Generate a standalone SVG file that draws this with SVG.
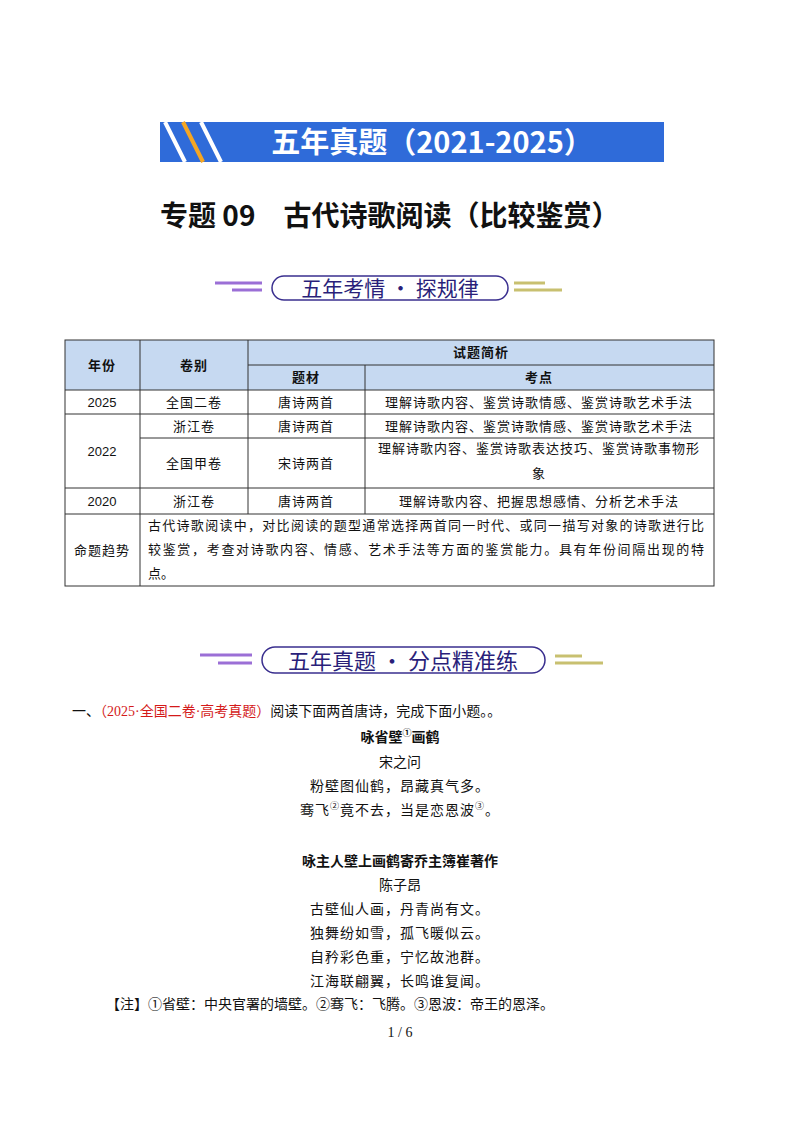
<svg xmlns="http://www.w3.org/2000/svg" width="800" height="1132" viewBox="0 0 800 1132">
<style>
text{font-family:"Liberation Serif","Noto Sans CJK SC",serif;fill:#111}
.c{text-anchor:middle}
.t{font-size:13px;letter-spacing:1px}
.tr{font-size:13px}
.p{font-size:14px}
.b{font-weight:bold}
.hd{font-family:"Noto Sans CJK SC",sans-serif;fill:#2a1f7a;font-size:21px;text-anchor:middle}
.cell{fill:none;stroke:#333;stroke-width:1}
.pill{fill:#fff;stroke:#3a2f8f;stroke-width:1.5}
</style>
<rect width="800" height="1132" fill="#fff"/>
<g id="banner">
<rect x="160" y="122" width="504" height="40" fill="#2F6BD9"/>
<line x1="165" y1="122" x2="185" y2="162" stroke="#fff" stroke-width="4"/>
<line x1="183" y1="122" x2="203" y2="162" stroke="#F5A623" stroke-width="4"/>
<line x1="201" y1="122" x2="221" y2="162" stroke="#fff" stroke-width="4"/>
<text x="432" y="153" class="c" style="font-family:'Noto Sans CJK SC',sans-serif;font-size:29px;font-weight:bold;fill:#fff">五年真题（2021-2025）</text>
</g>
<text x="160" y="226" style="font-family:'Noto Sans CJK SC',sans-serif;font-size:28px;font-weight:bold">专题 09　古代诗歌阅读（比较鉴赏）</text>
<g id="header1">
<line x1="215" y1="283" x2="262" y2="283" stroke="#9b6fd6" stroke-width="3"/>
<line x1="232" y1="290" x2="262" y2="290" stroke="#9b6fd6" stroke-width="3"/>
<line x1="514" y1="283" x2="545" y2="283" stroke="#c8c070" stroke-width="3"/>
<line x1="514" y1="290" x2="562" y2="290" stroke="#c8c070" stroke-width="3"/>
<rect x="272" y="276" width="236" height="24" rx="12" class="pill"/>
<text x="390" y="296" class="hd">五年考情 · 探规律</text>
</g>
<g id="table">
<rect x="65" y="340" width="649" height="50" fill="#C6D9F1"/>
<rect x="65" y="340" width="649" height="246" class="cell"/>
<line x1="140" y1="340" x2="140" y2="586" class="cell"/>
<line x1="248" y1="340" x2="248" y2="514" class="cell"/>
<line x1="365" y1="365" x2="365" y2="514" class="cell"/>
<line x1="248" y1="365" x2="714" y2="365" class="cell"/>
<line x1="65" y1="390" x2="714" y2="390" class="cell"/>
<line x1="65" y1="414" x2="714" y2="414" class="cell"/>
<line x1="140" y1="438" x2="714" y2="438" class="cell"/>
<line x1="65" y1="488" x2="714" y2="488" class="cell"/>
<line x1="65" y1="514" x2="714" y2="514" class="cell"/>
<text x="102" y="370" class="c b t">年份</text>
<text x="194" y="370" class="c b t">卷别</text>
<text x="481" y="357" class="c b t">试题简析</text>
<text x="306" y="382" class="c b t">题材</text>
<text x="539" y="382" class="c b t">考点</text>
<text x="102" y="407" class="c" style="font-family:'Liberation Sans',sans-serif;font-size:13px">2025</text>
<text x="194" y="407" class="c t">全国二卷</text>
<text x="306" y="407" class="c t">唐诗两首</text>
<text x="539" y="407" class="c t">理解诗歌内容、鉴赏诗歌情感、鉴赏诗歌艺术手法</text>
<text x="102" y="456" class="c" style="font-family:'Liberation Sans',sans-serif;font-size:13px">2022</text>
<text x="194" y="431" class="c t">浙江卷</text>
<text x="306" y="431" class="c t">唐诗两首</text>
<text x="539" y="431" class="c t">理解诗歌内容、鉴赏诗歌情感、鉴赏诗歌艺术手法</text>
<text x="194" y="468" class="c t">全国甲卷</text>
<text x="306" y="468" class="c t">宋诗两首</text>
<text x="539" y="453" class="c t">理解诗歌内容、鉴赏诗歌表达技巧、鉴赏诗歌事物形</text>
<text x="539" y="478" class="c t">象</text>
<text x="102" y="506" class="c" style="font-family:'Liberation Sans',sans-serif;font-size:13px">2020</text>
<text x="194" y="506" class="c t">浙江卷</text>
<text x="306" y="506" class="c t">唐诗两首</text>
<text x="539" y="506" class="c t">理解诗歌内容、把握思想感情、分析艺术手法</text>
<text x="102" y="555" class="c t">命题趋势</text>
<text x="148" y="530" class="tr" textLength="556" lengthAdjust="spacing">古代诗歌阅读中，对比阅读的题型通常选择两首同一时代、或同一描写对象的诗歌进行比</text>
<text x="148" y="554" class="tr" textLength="556" lengthAdjust="spacing">较鉴赏，考查对诗歌内容、情感、艺术手法等方面的鉴赏能力。具有年份间隔出现的特</text>
<text x="148" y="578" class="tr">点。</text>
</g>
<g id="header2">
<line x1="200" y1="655" x2="252" y2="655" stroke="#9b6fd6" stroke-width="3"/>
<line x1="218" y1="663" x2="252" y2="663" stroke="#9b6fd6" stroke-width="3"/>
<line x1="555" y1="656" x2="582" y2="656" stroke="#c8c070" stroke-width="3"/>
<line x1="555" y1="663" x2="603" y2="663" stroke="#c8c070" stroke-width="3"/>
<rect x="262" y="647" width="283" height="26" rx="13" class="pill"/>
<text x="403" y="669" class="hd" style="font-size:22px">五年真题 · 分点精准练</text>
</g>
<g id="question">
<text x="72" y="716" class="p">一、<tspan style="fill:#d41a1a">（2025·全国二卷·高考真题）</tspan>阅读下面两首唐诗，完成下面小题。。</text>
<text x="400" y="742" class="c p b">咏省壁<tspan font-size="9" dy="-6">①</tspan><tspan dy="6">画鹤</tspan></text>
<text x="400" y="767" class="c p">宋之问</text>
<text x="400" y="791" class="c p" letter-spacing="1">粉壁图仙鹤，昂藏真气多。</text>
<text x="400" y="815" class="c p" letter-spacing="1">骞飞<tspan font-size="9" dy="-6">②</tspan><tspan dy="6">竟不去，当是恋恩波</tspan><tspan font-size="9" dy="-6">③</tspan><tspan dy="6">。</tspan></text>
<text x="400" y="866" class="c p b">咏主人壁上画鹤寄乔主簿崔著作</text>
<text x="400" y="890" class="c p">陈子昂</text>
<text x="400" y="914" class="c p" letter-spacing="1">古壁仙人画，丹青尚有文。</text>
<text x="400" y="938" class="c p" letter-spacing="1">独舞纷如雪，孤飞暖似云。</text>
<text x="400" y="962" class="c p" letter-spacing="1">自矜彩色重，宁忆故池群。</text>
<text x="400" y="986" class="c p" letter-spacing="1">江海联翩翼，长鸣谁复闻。</text>
<text x="106" y="1009" class="p">【注】①省壁：中央官署的墙壁。②骞飞：飞腾。③恩波：帝王的恩泽。</text>
</g>
<text x="400" y="1037" class="c p">1 / 6</text>
</svg>
